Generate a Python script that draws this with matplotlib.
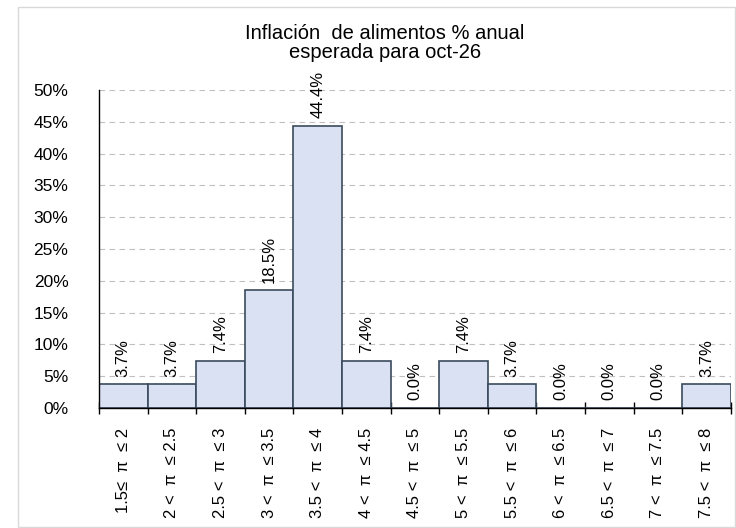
import matplotlib.pyplot as plt
from matplotlib.patches import Rectangle

plt.rcParams['font.family'] = ['Liberation Sans', 'DejaVu Sans']

# data
categories = ["1.5≤  π  ≤ 2", "2 <  π  ≤ 2.5", "2.5 <  π  ≤ 3", "3 <  π  ≤ 3.5",
              "3.5 <  π  ≤ 4", "4 <  π  ≤ 4.5", "4.5 <  π  ≤ 5", "5 <  π  ≤ 5.5",
              "5.5 <  π  ≤ 6", "6 <  π  ≤ 6.5", "6.5 <  π  ≤ 7", "7 <  π  ≤ 7.5",
              "7.5 <  π  ≤ 8"]
values = [3.7, 3.7, 7.4, 18.5, 44.4, 7.4, 0.0, 7.4, 3.7, 0.0, 0.0, 0.0, 3.7]
y_ticks = [0, 5, 10, 15, 20, 25, 30, 35, 40, 45, 50]

fig = plt.figure(figsize=(7.36, 5.28), dpi=100)
fig.patches.append(Rectangle((18 / 736, 0.002), 1 - 18 / 736 - 0.002, 1 - 7 / 528 - 0.002,
                             transform=fig.transFigure, fill=False,
                             edgecolor="#d9d9d9", linewidth=1))

ax = fig.add_axes([0.1345, 0.2273, 0.8585, 0.6022])
x = list(range(len(values)))
ax.bar(x, values, width=1.0, color="#d9e1f2", edgecolor="#3b4a5e", linewidth=1.2, zorder=2)

for xi, v in zip(x, values):
    ax.text(xi, v + 1.2, f"{v:.1f}%", rotation=90, ha="center", va="bottom", fontsize=12)

ax.set_xlim(-0.5, len(values) - 0.5)
ax.set_ylim(0, 50)
ax.set_yticks(y_ticks)
ax.set_yticklabels([f"{t}%" for t in y_ticks], fontsize=12.5)
ax.yaxis.grid(True, linestyle=(0, (5, 4)), color="#bfbfbf", linewidth=0.8, zorder=0)

ax.set_xticks([i - 0.5 for i in range(len(values) + 1)], minor=False)
ax.set_xticklabels([""] * (len(values) + 1))
ax.set_xticks(x, minor=True)
ax.set_xticklabels(categories, minor=True, rotation=90, fontsize=12)
ax.tick_params(axis="x", which="minor", length=0, pad=14)
ax.tick_params(axis="x", which="major", length=8, direction="inout", width=1)
ax.tick_params(axis="y", length=0, pad=22)

for s in ["top", "right"]:
    ax.spines[s].set_visible(False)
ax.spines["left"].set_linewidth(1)
ax.spines["bottom"].set_linewidth(1)

fig.text(0.523, 0.918, "Inflación  de alimentos % anual\nesperada para oct-26",
         ha="center", va="center", fontsize=14.5, linespacing=1.0)

fig.savefig("out.png", dpi=100)
